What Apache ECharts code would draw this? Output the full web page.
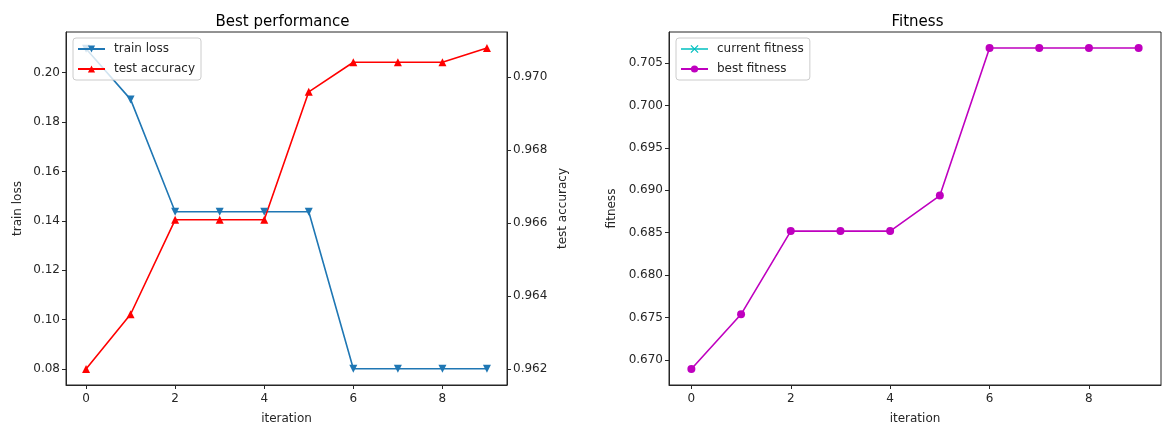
<!DOCTYPE html>
<html>
<head>
<meta charset="utf-8">
<script src="https://cdn.jsdelivr.net/npm/echarts@6/dist/echarts.min.js"></script>
<style>
html,body{margin:0;padding:0;background:#fff;}
#chart{width:1162px;height:430px;}
</style>
</head>
<body>
<div id="chart"></div>
<script>
var iterations = [0, 1, 2, 3, 4, 5, 6, 7, 8, 9];
var trainLoss = [0.2097, 0.1892, 0.1437, 0.1437, 0.1437, 0.1437, 0.0801, 0.0801, 0.0801, 0.0801];
var testAccuracy = [0.9620, 0.9635, 0.96609, 0.96609, 0.96609, 0.9696, 0.97041, 0.97041, 0.97041, 0.9708];
var currentFitness = [0.66894, 0.67538, 0.68519, 0.68519, 0.68519, 0.68938, 0.70677, 0.70677, 0.70677, 0.70677];
var bestFitness = [0.66894, 0.67538, 0.68519, 0.68519, 0.68519, 0.68938, 0.70677, 0.70677, 0.70677, 0.70677];
var xTicks = [0, 2, 4, 6, 8];
var lossTicks = [0.08, 0.10, 0.12, 0.14, 0.16, 0.18, 0.20];
var accTicks = [0.962, 0.964, 0.966, 0.968, 0.970];
var fitTicks = [0.670, 0.675, 0.680, 0.685, 0.690, 0.695, 0.700, 0.705];

function pairs(ys) { return iterations.map(function (x, i) { return [x, ys[i]]; }); }

var FONT = 'DejaVu Sans';
var txt = { fontFamily: FONT, fontSize: 12, color: '#262626' };

function xAxis(gridIndex) {
  return {
    type: 'value', gridIndex: gridIndex, min: -0.45, max: 9.45,
    name: 'iteration', nameLocation: 'middle', nameGap: 28,
    nameTextStyle: { fontFamily: FONT, fontSize: 12, color: '#262626' },
    axisLine: { show: true, onZero: false, lineStyle: { color: '#262626', width: 1 } },
    axisTick: { show: true, inside: false, length: 4, customValues: xTicks, lineStyle: { color: '#262626' } },
    axisLabel: Object.assign({ customValues: xTicks, margin: 8, formatter: function (v) { return String(v); } }, txt),
    splitLine: { show: false }
  };
}
function yAxis(gridIndex, pos, min, max, ticks, dec, name, gap) {
  return {
    type: 'value', gridIndex: gridIndex, position: pos, min: min, max: max,
    name: name, nameLocation: 'middle', nameGap: gap, nameRotate: 90,
    nameTextStyle: { fontFamily: FONT, fontSize: 12, color: '#262626' },
    axisLine: { show: true, onZero: false, lineStyle: { color: '#262626', width: 1 } },
    axisTick: { show: true, inside: false, length: 4, customValues: ticks, lineStyle: { color: '#262626' } },
    axisLabel: Object.assign({ customValues: ticks, margin: 6, formatter: function (v) { return v.toFixed(dec); } }, txt),
    splitLine: { show: false }
  };
}
function legend(names, left) {
  return {
    data: names, orient: 'vertical', left: left, top: 38,
    itemWidth: 27, itemHeight: 9, itemGap: 8, padding: [5, 6, 5, 4],
    backgroundColor: 'rgba(255,255,255,0.8)', borderColor: '#cccccc', borderWidth: 1, borderRadius: 3,
    textStyle: { fontFamily: FONT, fontSize: 12, color: '#262626', padding: [0, 0, 0, 4] }
  };
}

var chart = echarts.init(document.getElementById('chart'), null, { renderer: 'canvas' });
chart.setOption({
  animation: false,
  backgroundColor: '#fff',
  title: [
    { text: 'Best performance', left: 277.5, top: 10, textAlign: 'center',
      textStyle: { fontFamily: FONT, fontSize: 15, fontWeight: 'normal', color: '#000' } },
    { text: 'Fitness', left: 912.5, top: 10, textAlign: 'center',
      textStyle: { fontFamily: FONT, fontSize: 15, fontWeight: 'normal', color: '#000' } }
  ],
  grid: [
    { left: 66, top: 32, width: 441, height: 354, show: true, borderColor: '#262626', borderWidth: 1, backgroundColor: 'transparent' },
    { left: 669, top: 32, width: 492, height: 354, show: true, borderColor: '#262626', borderWidth: 1, backgroundColor: 'transparent' }
  ],
  legend: [
    legend(['train loss', 'test accuracy'], 73),
    legend([
      { name: 'current fitness', itemStyle: { color: '#00bfbf', borderColor: '#00bfbf', borderWidth: 1.2, opacity: 1 }, lineStyle: { color: '#00bfbf', width: 1.5, opacity: 1 } },
      'best fitness'
    ], 676)
  ],
  xAxis: [xAxis(0), xAxis(1)],
  yAxis: [
    yAxis(0, 'left', 0.0735, 0.2165, lossTicks, 2, 'train loss', 42),
    yAxis(0, 'right', 0.96156, 0.97124, accTicks, 3, 'test accuracy', 50),
    yAxis(1, 'left', 0.66705, 0.70866, fitTicks, 3, 'fitness', 51)
  ],
  series: [
    { name: 'train loss', type: 'line', xAxisIndex: 0, yAxisIndex: 0, data: pairs(trainLoss),
      symbol: 'triangle', symbolRotate: 180, symbolSize: 8, showAllSymbol: true,
      lineStyle: { color: '#1f77b4', width: 1.6 }, itemStyle: { color: '#1f77b4' } },
    { name: 'test accuracy', type: 'line', xAxisIndex: 0, yAxisIndex: 1, data: pairs(testAccuracy),
      symbol: 'triangle', symbolSize: 8, showAllSymbol: true,
      lineStyle: { color: '#ff0000', width: 1.6 }, itemStyle: { color: '#ff0000' } },
    { name: 'current fitness', type: 'line', xAxisIndex: 1, yAxisIndex: 2, data: pairs(currentFitness),
      symbol: 'path://M0,0L10,10M10,0L0,10', symbolSize: 6, showAllSymbol: true, z: 1,
      lineStyle: { color: '#00bfbf', width: 1.5, opacity: 0 },
      itemStyle: { color: '#00bfbf', borderColor: '#00bfbf', borderWidth: 1.2, opacity: 0 } },
    { name: 'best fitness', type: 'line', xAxisIndex: 1, yAxisIndex: 2, data: pairs(bestFitness),
      symbol: 'circle', symbolSize: 8, showAllSymbol: true, z: 3,
      lineStyle: { color: '#bf00bf', width: 1.6 }, itemStyle: { color: '#bf00bf' } }
  ]
});
</script>
</body>
</html>
